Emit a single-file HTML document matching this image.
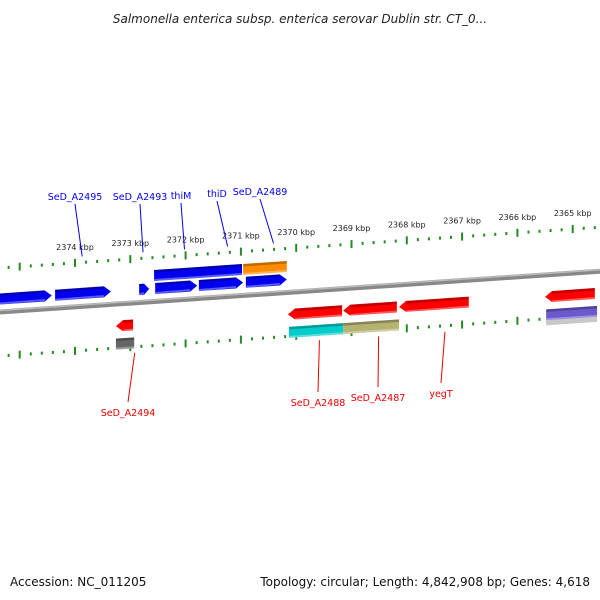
<!DOCTYPE html>
<html><head><meta charset="utf-8"><style>
html,body{margin:0;padding:0;background:#fff;width:600px;height:600px;overflow:hidden}
svg{display:block;font-family:"DejaVu Sans","Liberation Sans",sans-serif}
</style></head><body>
<svg id="chart" width="600" height="600" viewBox="0 0 600 600">
<text x="300" y="23" text-anchor="middle" font-size="12" font-style="italic" fill="#222">Salmonella enterica subsp. enterica serovar Dublin str. CT_0...</text>
<text x="10" y="586" font-size="12" fill="#111">Accession: NC_011205</text>
<text x="590" y="586" font-size="12" fill="#111" text-anchor="end">Topology: circular; Length: 4,842,908 bp; Genes: 4,618</text>
<g id="ticks"></g><g id="backbone"></g><g id="genes"></g><g id="labels"></g>
</svg>
<script>
// data (kbp)
const tickKbp = [2374,2373,2372,2371,2370,2369,2368,2367,2366,2365];
const geneStart = [2375.40,2374.36,2372.84,2372.55,2371.76,2370.91,2372.57,2370.96,2373.26,2370.15,2369.15,2368.14,2365.50,2373.26,2370.13,2369.15,2365.48];
const geneEnd   = [2374.42,2373.35,2372.66,2371.79,2370.96,2370.17,2370.98,2370.17,2372.95,2369.17,2368.18,2366.88,2364.60,2372.93,2369.15,2368.14,2364.56];
const geneRow   = [1,1,1,1,1,1,2,2,-1,-1,-1,-1,-1,-2,-2,-2,-2];
const geneColor = ['#0000ee','#0000ee','#0000ee','#0000ee','#0000ee','#0000ee','#0000ee','#ff8c00','#ff0000','#ff0000','#ff0000','#ff0000','#ff0000','#666666','#00cccc','#b5b272','#6a5acd'];
const geneArrow = [1,1,1,1,1,1,0,0,1,1,1,1,1,0,0,0,0];
const labelText = ['SeD_A2495','SeD_A2493','thiM','thiD','SeD_A2489','SeD_A2494','SeD_A2488','SeD_A2487','yegT'];
const labelKbp  = [2373.87,2372.77,2372.02,2371.24,2370.41,2372.92,2369.58,2368.51,2367.31];
const labelSide = [1,1,1,1,1,-1,-1,-1,-1];
const labelTX   = [75,140,181,217,260,128,318,378,441];
const labelTY   = [200,200,199,197,195,416,406,401,397];

const NS='http://www.w3.org/2000/svg';
const xOf = k => 75 + (2374 - k) * 55.3;
const yB = x => 312 - 0.068 * x;
function mk(tag, attrs, parent){const e=document.createElementNS(NS,tag);for(const a in attrs)e.setAttribute(a,attrs[a]);parent.appendChild(e);return e;}
const T=document.getElementById('ticks'),B=document.getElementById('backbone'),G=document.getElementById('genes'),L=document.getElementById('labels');

let bb=mk('path',{d:`M0 ${yB(0)} L600 ${yB(600)}`,stroke:'#888','stroke-width':5,fill:'none'},B);


let bb2=mk('path',{d:`M0 ${yB(0)-1.5} L600 ${yB(600)-1.5}`,stroke:'#bbb','stroke-width':1.5,fill:'none'},B);



const kMin = 2364.2, kMax = 2375.5;
for (let i = Math.ceil(kMin*5); i <= Math.floor(kMax*5); i++) {
  const k = i/5, x = xOf(k);
  if (x < 0 || x > 600) continue;
  const major = Math.abs(k - Math.round(k)) < 1e-6;
  const half = Math.abs(k*2 - Math.round(k*2)) < 1e-6;
  const h = major ? 8 : (half ? 6 : 3);
  [-44, 44].forEach(off => {
    const y = yB(x) + off;
    const t = mk('rect',{x:x-1,y:y-h/2,width:2,height:h,fill:'#228b22'},T);
    
    
  });
}
tickKbp.forEach(k => {
  const x = xOf(k);
  const t = mk('text',{x:x,y:yB(x)-57,'font-size':8,'text-anchor':'middle',fill:'#222'},T);
  t.textContent = k + ' kbp';
  
  
});

const rowOff = {1:-13, 2:-26, '-1':22, '-2':40};
geneStart.forEach((s, i) => {
  let x1 = xOf(s), x2 = xOf(geneEnd[i]);
  if (x1 > x2) [x1, x2] = [x2, x1];
  const off = rowOff[geneRow[i]], hh = 5.5, arr = geneArrow[i] ? Math.min(7, (x2-x1)/2) : 0;
  const y = x => yB(x) + off;
  let pts;
  if (geneRow[i] > 0) {
    pts = [[x1,y(x1)-hh],[x2-arr,y(x2-arr)-hh],[x2,y(x2)],[x2-arr,y(x2-arr)+hh],[x1,y(x1)+hh]];
  } else {
    pts = [[x1+arr,y(x1+arr)-hh],[x2,y(x2)-hh],[x2,y(x2)+hh],[x1+arr,y(x1+arr)+hh],[x1,y(x1)]];
  }
  const a1 = geneRow[i]<0?arr:0, a2 = geneRow[i]>0?arr:0;
  const g = mk('g',{},G);
  
  
  mk('polygon',{points:pts.map(p=>p.join(',')).join(' '),fill:geneColor[i]},g);
  mk('polygon',{points:[[x1+a1,y(x1)-hh],[x2-a2,y(x2)-hh],[x2-a2,y(x2)-hh+2.5],[x1+a1,y(x1)-hh+2.5]].map(p=>p.join(',')).join(' '),fill:'#000',opacity:0.25},g);
  mk('polygon',{points:[[x1+a1,y(x1)+hh-2],[x2-a2,y(x2)+hh-2],[x2-a2,y(x2)+hh],[x1+a1,y(x1)+hh]].map(p=>p.join(',')).join(' '),fill:'#fff',opacity:0.35},g);
  if (geneColor[i] === '#6a5acd') {
    mk('polygon',{points:[[x1,y(x1)+hh],[x2,y(x2)+hh],[x2,y(x2)+hh+5],[x1,y(x1)+hh+5]].map(p=>p.join(',')).join(' '),fill:'#c8c8c8'},g);
  }
});

labelText.forEach((t, i) => {
  const x = xOf(labelKbp[i]);
  const col = labelSide[i] > 0 ? '#0000ee' : '#ee0000';
  const yEnd = labelSide[i] > 0 ? yB(x) - 50 : yB(x) + 50;
  const yStart = labelSide[i] > 0 ? labelTY[i] + 4 : labelTY[i] - 14;
  const ln = mk('line',{x1:labelTX[i], y1:yStart, x2:x, y2:yEnd, stroke:col,'stroke-width':1},L);
  
  
  const tx = mk('text',{x:labelTX[i],y:labelTY[i],'font-size':9.5,'text-anchor':'middle',fill:col},L);
  tx.textContent = t;
  
  
});
</script>
</body></html>
